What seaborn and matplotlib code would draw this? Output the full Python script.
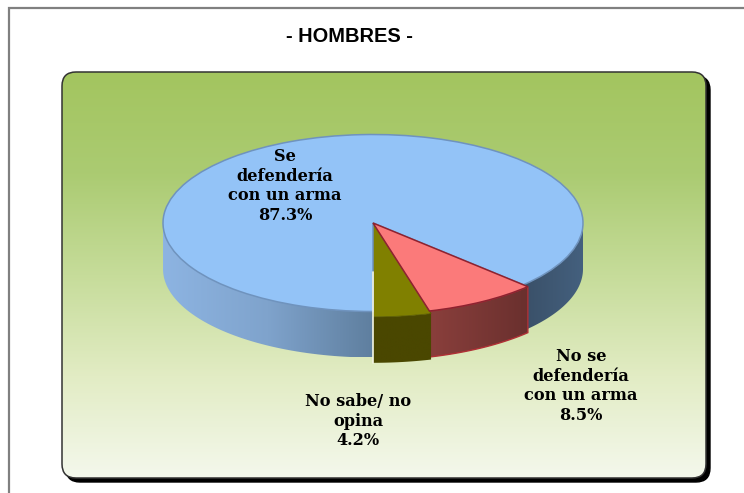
import numpy as np
import matplotlib
matplotlib.use('Agg')
import matplotlib.pyplot as plt
from matplotlib.patches import FancyBboxPatch, Polygon
from matplotlib.colors import ListedColormap
import seaborn as sns

categorias = ['No sabe/ no\nopina', 'No se\ndefendería\ncon un arma', 'Se\ndefendería\ncon un arma']
valores = [4.2, 8.5, 87.3]
etiquetas = ['4.2%', '8.5%', '87.3%']
colores = ['#808000', '#FB7A7A', '#93C3F7']
bordes = ['#5A5A00', '#8E2230', '#6F93BE']
titulo = '- HOMBRES -'

W, H = 744, 493
sns.set_theme(style='white')
plt.rcParams['font.family'] = ['DejaVu Serif', 'DejaVu Sans']

fig = plt.figure(figsize=(W / 100, H / 100), dpi=100, facecolor='white')

# fondo en pixeles
bg = fig.add_axes([0, 0, 1, 1])
bg.axis('off')
bg.plot([9, 9, W], [H, 8, 8], color='#808080', lw=1.6, solid_joinstyle='miter')

estilo = 'round,pad=0,rounding_size=14'
bg.add_patch(FancyBboxPatch((66, 76), 644, 406, boxstyle=estilo, fc='black', ec='black', lw=1))
grad = sns.blend_palette(['#A3C55F', '#ABCB72', '#C6DC9A', '#E2ECC4', '#F4F8EC'], 256)
img = bg.imshow(np.linspace(0, 1, 256).reshape(-1, 1), cmap=ListedColormap(grad),
                extent=(62, 706, 478, 72), aspect='auto', zorder=2)
img.set_clip_path(FancyBboxPatch((62, 72), 644, 406, boxstyle=estilo, transform=bg.transData))
bg.add_patch(FancyBboxPatch((62, 72), 644, 406, boxstyle=estilo, fc='none', ec='#333333', lw=1.1, zorder=3))
bg.set_xlim(0, W)
bg.set_ylim(H, 0)

# pastel, el eje cubre toda la figura
rx, ry = 210, 88.5
cx, cy = 373, 223
ax = fig.add_axes([0, 0, 1, 1])
wedges, _ = ax.pie(valores, colors=colores, startangle=270, counterclock=True,
                   wedgeprops=dict(linewidth=1.1))
prof = 46 / ry
radios = [1.06, 1.03, 1.0]
for w, b, r in zip(wedges, bordes, radios):
    w.set_radius(r)
    w.set_edgecolor(b)
    w.set_zorder(5)
wedges[1].set_zorder(6)
wedges[0].set_linewidth(0.6)


def pared(t1, t2, r, cols, z, borde=None):
    # pared lateral con degradado horizontal
    t = np.radians(np.linspace(t1, t2, 60))
    xs = r * np.cos(t)
    ys = r * np.sin(t)
    verts = np.r_[np.c_[xs, ys], np.c_[xs[::-1], ys[::-1] - prof]]
    poly = Polygon(verts, closed=True, fc='none', ec=borde if borde else 'none', lw=1, zorder=z + 0.1)
    ax.add_patch(poly)
    im = ax.imshow(np.linspace(0, 1, 128).reshape(1, -1), cmap=ListedColormap(cols),
                   extent=(xs.min(), xs.max(), ys.min() - prof, ys.max()),
                   aspect='auto', zorder=z)
    im.set_clip_path(poly)


ang = 270 + np.cumsum([0] + valores) * 3.6
pared(180, 270, 1.0, sns.blend_palette(['#8DB4E2', '#7FA3CC', '#5F7F9F'], 128), 2)
pared(ang[2], 360, 1.0, sns.blend_palette(['#3A5068', '#44607E'], 128), 2)
pared(ang[1], ang[2], radios[1], sns.blend_palette(['#8A3F3C', '#6A302E'], 128), 3, '#B03035')
pared(ang[0], ang[1], radios[0], sns.blend_palette(['#4A4700', '#4A4700'], 128), 4)

ax.set_aspect('auto')
ax.set_xlim(-cx / rx, (W - cx) / rx)
ax.set_ylim((cy - H) / ry, cy / ry)
ax.patch.set_alpha(0)
ax.set_frame_on(False)
ax.set_xticks([])
ax.set_yticks([])

# canto claro entre la pared azul y la olivo
ax.plot([0, 0], [-radios[0] - prof, -0.55], color='#F4F6E4', lw=1.2, zorder=7)


# textos
def label(x, y, s):
    fig.text(x / W, 1 - y / H, s, ha='center', va='center', fontsize=11.6,
             fontweight='bold', color='black', linespacing=1.22)


label(285, 186, categorias[2] + '\n' + etiquetas[2])
label(581, 386, categorias[1] + '\n' + etiquetas[1])
label(358, 421, categorias[0] + '\n' + etiquetas[0])
fig.text(349 / W, 1 - 37 / H, titulo, ha='center', va='center', fontsize=14.4,
         fontweight='bold', family='Liberation Sans', color='black')

fig.savefig('out.png', dpi=100, facecolor='white')
